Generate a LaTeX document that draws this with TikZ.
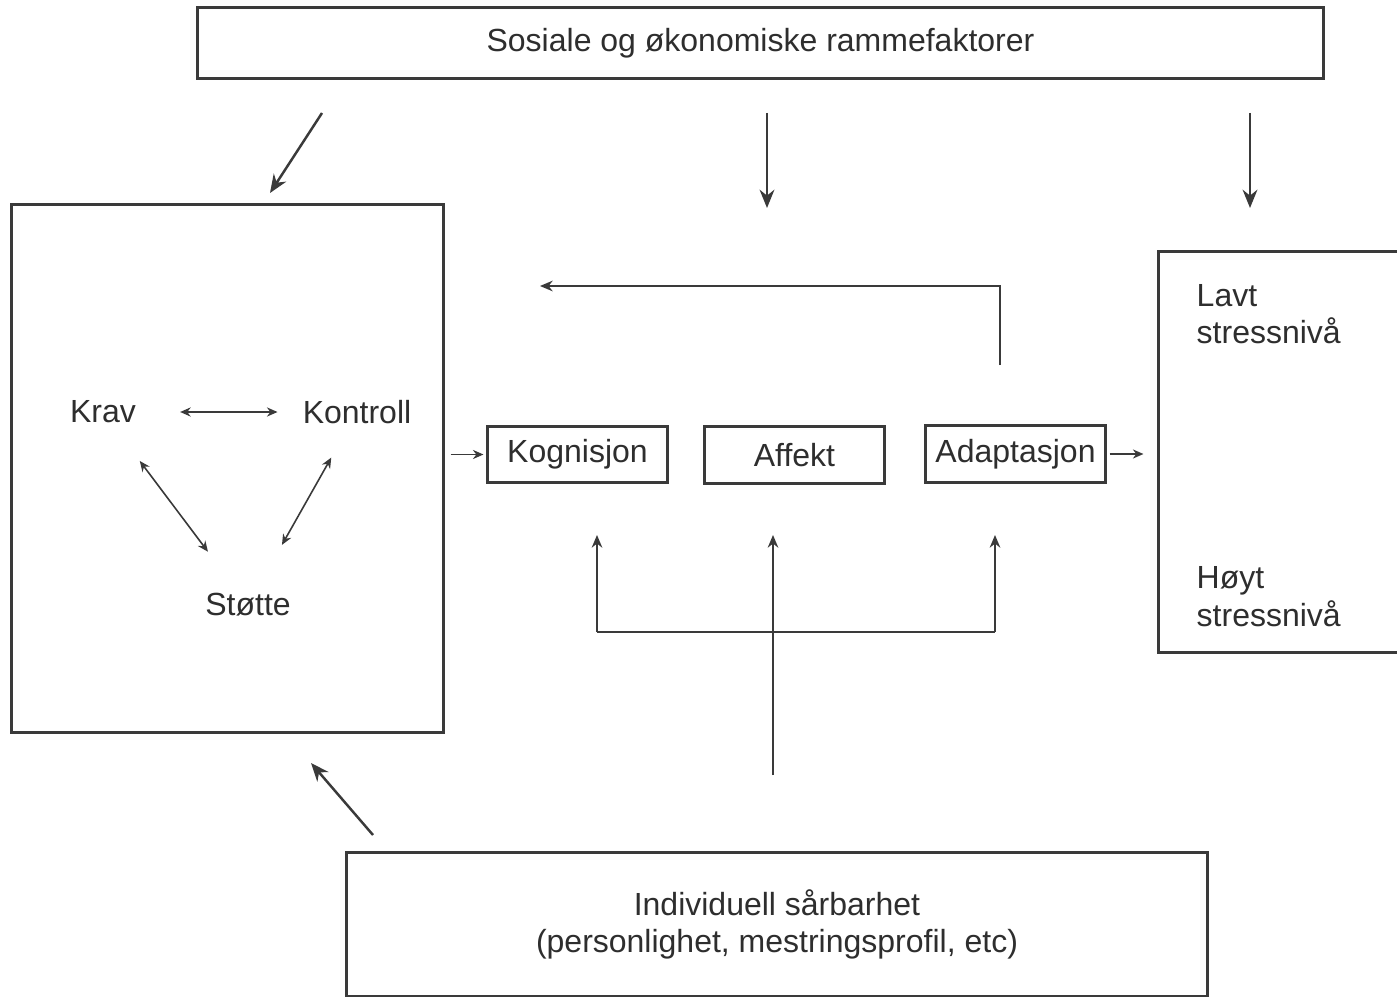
\documentclass[tikz,border=0pt]{standalone}
\usepackage{fontspec}
\setmainfont{Liberation Sans}
\usetikzlibrary{arrows.meta}
\definecolor{linegray}{HTML}{3A3A3A}
\definecolor{textgray}{HTML}{2E2E2E}

\begin{document}
\begin{tikzpicture}[x=0.01cm, y=-0.01cm,
    every node/.style={font=\fontsize{9.1pt}{10.6pt}\selectfont, text=textgray},
    box/.style={draw=linegray, line width=0.85pt, inner sep=1pt},
    lbl/.style={inner sep=1pt},
    tinyarr/.style={draw=linegray, line width=0.45pt, -{Stealth[length=3pt,width=2.6pt]}},
    tinydbl/.style={draw=linegray, line width=0.45pt, {Stealth[length=3pt,width=2.6pt]}-{Stealth[length=3pt,width=2.6pt]}},
    midarr/.style={draw=linegray, line width=0.55pt, -{Stealth[length=3.6pt,width=3pt]}},
    bigarr/.style={draw=linegray, line width=0.7pt, -{Stealth[length=5.2pt,width=4.2pt]}}]
  \clip (0,0) rectangle (1397,997);
  \fill[white] (0,0) rectangle (1397,997);

  % boxes
  \node[box, minimum width=11.25cm, minimum height=0.70cm] (ramme) at (760.5,43) {Sosiale og økonomiske rammefaktorer};
  \node[box, minimum width=4.31cm, minimum height=5.27cm] (jobb) at (227.5,468.5) {};
  \node[box, minimum width=1.79cm, minimum height=0.56cm] (kog) at (577.5,454.5) {Kognisjon};
  \node[box, minimum width=1.79cm, minimum height=0.56cm] (aff) at (794.5,455) {Affekt};
  \node[box, minimum width=1.79cm, minimum height=0.56cm] (ada) at (1015.5,454) {Adaptasjon};
  \node[box, minimum width=2.45cm, minimum height=4.00cm] (stress) at (1281.5,452) {};
  \node[box, minimum width=8.60cm, minimum height=1.43cm, align=center] (indiv) at (777,924.5) {Individuell sårbarhet\\(personlighet, mestringsprofil, etc)};

  % labels inside the boxes
  \node[lbl] (krav) at (103,412) {Krav};
  \node[lbl] (kontroll) at (357,412) {Kontroll};
  \node[lbl] (stotte) at (248,605) {Støtte};
  \node[lbl, anchor=north west, align=left, inner sep=0pt] (lavt) at (1196,284) {Lavt\\stressnivå};
  \node[lbl, anchor=north west, align=left, inner sep=0pt] (hoyt) at (1196,566) {Høyt\\stressnivå};

  % krav - kontroll - stotte
  \draw[tinydbl, shorten <=0.40cm, shorten >=0.21cm] (krav) -- (kontroll);
  \draw[tinydbl, shorten <=0.42cm, shorten >=0.47cm] (krav) -- (stotte);
  \draw[tinydbl, shorten <=0.34cm, shorten >=0.51cm] (kontroll) -- (stotte);

  % through the chain
  \draw[tinyarr, shorten <=0.06cm, shorten >=0.03cm] (jobb.east |- kog.west) -- (kog.west);
  \draw[tinyarr, shorten <=0.03cm, shorten >=0.14cm] (ada.east) -- (ada.east -| stress.west);

  % feedback
  \coordinate (fbstart) at (1000,365);
  \coordinate (fbend) at (540,286);
  \draw[midarr] (fbstart) |- (fbend);

  % from the frame factors
  \coordinate (r1) at (322,113);
  \coordinate (r1end) at (270,193);
  \coordinate (r2) at (767,113);
  \coordinate (r2end) at (767,208);
  \coordinate (r3) at (1250,113);
  \coordinate (r3end) at (1250,208);
  \draw[bigarr] (r1) -- (r1end);
  \draw[bigarr] (r2) -- (r2end);
  \draw[bigarr] (r3) -- (r3end);

  % from individual vulnerability
  \coordinate (i1) at (373,835);
  \coordinate (i1end) at (311,763);
  \draw[bigarr] (i1) -- (i1end);
  \coordinate (i0) at (773,775);
  \coordinate (split) at (773,632);
  \coordinate (iK) at (597,535);
  \coordinate (iA) at (773,535);
  \coordinate (iD) at (995,535);
  \draw[midarr] (i0) -- (iA);
  \draw[linegray, line width=0.55pt] (split -| iK) -- (split -| iD);
  \draw[midarr] (split -| iK) -- (iK);
  \draw[midarr] (split -| iD) -- (iD);
\end{tikzpicture}
\end{document}
